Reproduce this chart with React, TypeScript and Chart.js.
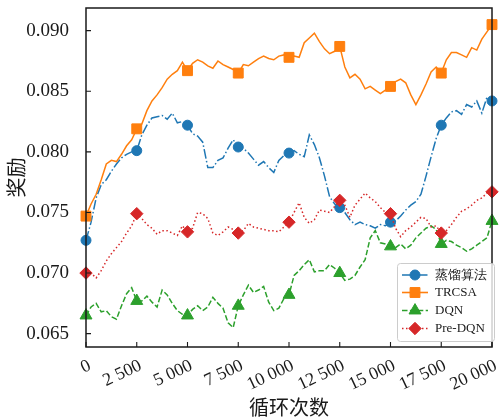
import { useEffect, useRef } from "react";
import { Chart, registerables } from "chart.js";

Chart.register(...registerables);

const steps = [
  0, 250, 500, 750, 1000, 1250, 1500, 1750, 2000, 2250,
  2500, 2750, 3000, 3250, 3500, 3750, 4000, 4250, 4500, 4750,
  5000, 5250, 5500, 5750, 6000, 6250, 6500, 6750, 7000, 7250,
  7500, 7750, 8000, 8250, 8500, 8750, 9000, 9250, 9500, 9750,
  10000, 10250, 10500, 10750, 11000, 11250, 11500, 11750, 12000, 12250,
  12500, 12750, 13000, 13250, 13500, 13750, 14000, 14250, 14500, 14750,
  15000, 15250, 15500, 15750, 16000, 16250, 16500, 16750, 17000, 17250,
  17500, 17750, 18000, 18250, 18500, 18750, 19000, 19250, 19500, 19750,
  20000,
];

const distillReward = [
  0.0727, 0.0742, 0.0762, 0.0773, 0.0777, 0.0784, 0.0790, 0.0795, 0.0798, 0.0800,
  0.0801, 0.0814, 0.0822, 0.0828, 0.0829, 0.0830, 0.0827, 0.0832, 0.0824, 0.0825,
  0.0822, 0.0815, 0.0813, 0.0808, 0.0787, 0.0787, 0.0793, 0.0795, 0.0803, 0.0810,
  0.0804, 0.0803, 0.0799, 0.0794, 0.0789, 0.0792, 0.0787, 0.0783, 0.0793, 0.0797,
  0.0799, 0.0801, 0.0798, 0.0796, 0.0814, 0.0806, 0.0795, 0.0780, 0.0763, 0.0757,
  0.0754, 0.0750, 0.0744, 0.0740, 0.0742, 0.0740, 0.0739, 0.0737, 0.0740, 0.0739,
  0.0742, 0.0743, 0.0747, 0.0752, 0.0756, 0.0759, 0.0765, 0.0780, 0.0796, 0.0811,
  0.0822, 0.0828, 0.0833, 0.0834, 0.0831, 0.0839, 0.0837, 0.0842, 0.0832, 0.0845,
  0.0842,
];

const trcsaReward = [
  0.0747, 0.0757, 0.0765, 0.0777, 0.0790, 0.0793, 0.0792, 0.0798, 0.0805, 0.0810,
  0.0819, 0.0823, 0.0834, 0.0842, 0.0847, 0.0853, 0.0860, 0.0864, 0.0867, 0.0874,
  0.0867, 0.0873, 0.0876, 0.0874, 0.0871, 0.0869, 0.0875, 0.0872, 0.0870, 0.0868,
  0.0865, 0.0872, 0.0871, 0.0874, 0.0877, 0.0879, 0.0877, 0.0876, 0.0879, 0.0880,
  0.0878, 0.0879, 0.0878, 0.0890, 0.0894, 0.0898, 0.0891, 0.0885, 0.0881, 0.0883,
  0.0887, 0.0870, 0.0861, 0.0864, 0.0860, 0.0852, 0.0854, 0.0851, 0.0848, 0.0851,
  0.0854, 0.0858, 0.0860, 0.0857, 0.0847, 0.0839, 0.0847, 0.0856, 0.0866, 0.0870,
  0.0865, 0.0876, 0.0882, 0.0882, 0.0880, 0.0878, 0.0886, 0.0884, 0.0893, 0.0899,
  0.0905,
];

const dqnReward = [
  0.0665, 0.0672, 0.0675, 0.0668, 0.0669, 0.0664, 0.0662, 0.0673, 0.0683, 0.0688,
  0.0677, 0.0677, 0.0681, 0.0676, 0.0672, 0.0686, 0.0682, 0.0675, 0.0669, 0.0666,
  0.0665, 0.0670, 0.0673, 0.0669, 0.0672, 0.0680, 0.0675, 0.0671, 0.0659, 0.0655,
  0.0673, 0.0682, 0.0690, 0.0684, 0.0686, 0.0689, 0.0676, 0.0669, 0.0671, 0.0679,
  0.0682, 0.0698, 0.0702, 0.0707, 0.0711, 0.0701, 0.0702, 0.0702, 0.0707, 0.0704,
  0.0700, 0.0694, 0.0695, 0.0698, 0.0705, 0.0711, 0.0729, 0.0735, 0.0725, 0.0724,
  0.0722, 0.0721, 0.0724, 0.0720, 0.0723, 0.0729, 0.0733, 0.0737, 0.0739, 0.0736,
  0.0724, 0.0727, 0.0726, 0.0723, 0.0721, 0.0718, 0.0720, 0.0723, 0.0726, 0.0729,
  0.0743,
];

const preDqnReward = [
  0.0700, 0.0700, 0.0696, 0.0702, 0.0710, 0.0716, 0.0721, 0.0726, 0.0733, 0.0739,
  0.0749, 0.0745, 0.0740, 0.0737, 0.0732, 0.0735, 0.0735, 0.0733, 0.0731, 0.0739,
  0.0734, 0.0737, 0.0750, 0.0749, 0.0745, 0.0733, 0.0731, 0.0734, 0.0738, 0.0736,
  0.0733, 0.0735, 0.0741, 0.0738, 0.0737, 0.0736, 0.0735, 0.0735, 0.0734, 0.0738,
  0.0742, 0.0750, 0.0758, 0.0746, 0.0741, 0.0744, 0.0752, 0.0751, 0.0750, 0.0755,
  0.0760, 0.0756, 0.0746, 0.0756, 0.0761, 0.0766, 0.0762, 0.0759, 0.0754, 0.0750,
  0.0749, 0.0737, 0.0730, 0.0735, 0.0738, 0.0742, 0.0746, 0.0745, 0.0738, 0.0739,
  0.0733, 0.0735, 0.0740, 0.0746, 0.0751, 0.0753, 0.0756, 0.0760, 0.0762, 0.0766,
  0.0767,
];

const seriesNames = ["蒸馏算法", "TRCSA", "DQN", "Pre-DQN"];
const markerSteps = [0, 2500, 5000, 7500, 10000, 12500, 15000, 17500, 20000];
const xTicks = [0, 2500, 5000, 7500, 10000, 12500, 15000, 17500, 20000];
const yTicks = [0.065, 0.07, 0.075, 0.08, 0.085, 0.09];
const xTitle = "循环次数";
const yTitle = "奖励";

const SERIF = "'Liberation Serif', 'Times New Roman', 'DejaVu Serif', serif";
const CJK = "'Noto Sans CJK SC', 'Noto Sans CJK JP', sans-serif";
const INK = "#1a1a1a";

type Series = {
  name: string;
  values: number[];
  color: string;
  dash: number[];
  style: "circle" | "rect" | "triangle" | "rectRot";
  radius: number;
  order: number;
};

const series: Series[] = [
  { name: seriesNames[0], values: distillReward, color: "#1f77b4", dash: [9.6, 2.4, 1.5, 2.4], style: "circle", radius: 5, order: 4 },
  { name: seriesNames[1], values: trcsaReward, color: "#ff7f0e", dash: [], style: "rect", radius: 7, order: 3 },
  { name: seriesNames[2], values: dqnReward, color: "#2ca02c", dash: [5.5, 2.4], style: "triangle", radius: 6.9, order: 2 },
  { name: seriesNames[3], values: preDqnReward, color: "#d62728", dash: [1.5, 2.5], style: "rectRot", radius: 6.2, order: 1 },
];

function formatThousands(v: number): string {
  const s = String(Math.round(v));
  return s.replace(/\B(?=(\d{3})+(?!\d))/g, " ");
}

function drawMarker(ctx: CanvasRenderingContext2D, style: string, x: number, y: number, r: number) {
  ctx.beginPath();
  if (style === "circle") {
    ctx.arc(x, y, r, 0, Math.PI * 2);
  } else if (style === "rect") {
    const s = Math.SQRT1_2 * r;
    ctx.rect(x - s, y - s, 2 * s, 2 * s);
  } else if (style === "triangle") {
    let rad = 0;
    ctx.moveTo(x + Math.sin(rad) * r, y - Math.cos(rad) * r);
    rad += (2 * Math.PI) / 3;
    ctx.lineTo(x + Math.sin(rad) * r, y - Math.cos(rad) * r);
    rad += (2 * Math.PI) / 3;
    ctx.lineTo(x + Math.sin(rad) * r, y - Math.cos(rad) * r);
    ctx.closePath();
  } else {
    ctx.moveTo(x - r, y);
    ctx.lineTo(x, y - r);
    ctx.lineTo(x + r, y);
    ctx.lineTo(x, y + r);
    ctx.closePath();
  }
  ctx.fill();
  ctx.stroke();
}

const framePlugin = {
  id: "frameAndLegend",
  afterDatasetsDraw(chart: any) {
    const { ctx, chartArea: a, scales } = chart;
    ctx.save();
    ctx.setLineDash([]);
    ctx.strokeStyle = INK;
    ctx.lineWidth = 1.1;
    ctx.beginPath();
    xTicks.forEach((v) => {
      const px = scales.x.getPixelForValue(v);
      ctx.moveTo(px, a.bottom);
      ctx.lineTo(px, a.bottom - 5);
    });
    yTicks.forEach((v) => {
      const py = scales.y.getPixelForValue(v);
      ctx.moveTo(a.left, py);
      ctx.lineTo(a.left + 5, py);
    });
    ctx.stroke();
    ctx.lineWidth = 1.5;
    ctx.strokeRect(a.left, a.top, a.right - a.left, a.bottom - a.top);
    ctx.restore();
  },
  afterDraw(chart: any) {
    const { ctx } = chart;
    ctx.save();
    const bx = 397.5;
    const by = 263.5;
    const bw = 97;
    const bh = 78;
    ctx.beginPath();
    ctx.roundRect(bx, by, bw, bh, 3);
    ctx.fillStyle = "rgba(255,255,255,0.8)";
    ctx.fill();
    ctx.strokeStyle = "#cccccc";
    ctx.lineWidth = 1;
    ctx.stroke();
    const rowY = [275, 292.5, 310.5, 328.5];
    series.forEach((s, i) => {
      const y = rowY[i];
      ctx.strokeStyle = s.color;
      ctx.lineWidth = 1.6;
      ctx.setLineDash(s.dash);
      ctx.beginPath();
      ctx.moveTo(402, y);
      ctx.lineTo(428, y);
      ctx.stroke();
      ctx.setLineDash([]);
      ctx.fillStyle = s.color;
      ctx.lineWidth = 1;
      drawMarker(ctx, s.style, 415, y, s.radius);
      ctx.fillStyle = INK;
      ctx.textBaseline = "middle";
      ctx.textAlign = "left";
      ctx.font = `13px ${SERIF}`;
      ctx.fillText(s.name, 435, y + 0.5);
    });
    ctx.restore();
  },
};

export default function App() {
  const ref = useRef<HTMLCanvasElement>(null);

  useEffect(() => {
    if (!ref.current) return;
    Chart.defaults.font.family = SERIF;
    const chart = new Chart(ref.current, {
      type: "line",
      data: {
        datasets: series.map((s) => ({
          label: s.name,
          data: steps.map((st, i) => ({ x: st, y: s.values[i] })),
          borderColor: s.color,
          backgroundColor: s.color,
          borderWidth: 1.5,
          borderDash: s.dash,
          tension: 0,
          fill: false,
          clip: false as any,
          order: s.order,
          pointStyle: s.style,
          pointBorderWidth: 1,
          pointBorderColor: s.color,
          pointBackgroundColor: s.color,
          pointRadius: (c: any) => (markerSteps.includes(steps[c.dataIndex]) ? s.radius : 0),
          pointHoverRadius: (c: any) => (markerSteps.includes(steps[c.dataIndex]) ? s.radius : 0),
        })),
      },
      options: {
        animation: false,
        responsive: false,
        devicePixelRatio: 1,
        layout: { padding: { left: 0, right: 1, top: 8, bottom: 0 } },
        plugins: {
          legend: { display: false },
          tooltip: { enabled: false },
        },
        events: [],
        scales: {
          x: {
            type: "linear",
            min: 0,
            max: 20000,
            grid: { display: false },
            border: { display: false },
            afterBuildTicks: (s: any) => {
              s.ticks = xTicks.map((v) => ({ value: v }));
            },
            afterFit: (s: any) => {
              s.height = 73;
              s.paddingLeft = 0;
              s.paddingRight = 0;
            },
            ticks: {
              autoSkip: false,
              minRotation: 25,
              maxRotation: 25,
              padding: 0,
              labelOffset: 4,
              color: INK,
              font: { family: SERIF, size: 18 },
              callback: (v: any) => formatThousands(Number(v)),
            },
            title: {
              display: true,
              text: xTitle,
              color: INK,
              font: { family: CJK, size: 20 },
              padding: { top: 0, bottom: 1 },
            },
          },
          y: {
            type: "linear",
            min: 0.0639,
            max: 0.09187,
            grid: { display: false },
            border: { display: false },
            afterBuildTicks: (s: any) => {
              s.ticks = yTicks.map((v) => ({ value: v }));
            },
            afterFit: (s: any) => {
              s.width = 86;
              s.paddingTop = 0;
              s.paddingBottom = 0;
            },
            ticks: {
              padding: 9,
              color: INK,
              font: { family: SERIF, size: 19 },
              callback: (v: any) => Number(v).toFixed(3),
            },
            title: {
              display: true,
              text: yTitle,
              color: INK,
              font: { family: CJK, size: 20 },
              padding: { top: 4, bottom: 0 },
            },
          },
        },
      },
      plugins: [framePlugin],
    });
    return () => chart.destroy();
  }, []);

  return (
    <div style={{ position: "fixed", left: 0, top: 0, width: 500, height: 420, background: "#fff" }}>
      <canvas ref={ref} width={500} height={420} style={{ display: "block", width: 500, height: 420 }} />
    </div>
  );
}
